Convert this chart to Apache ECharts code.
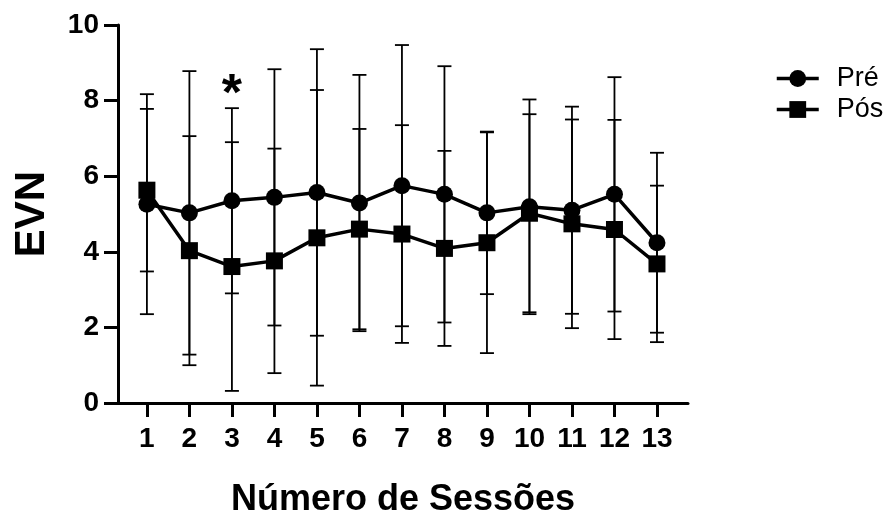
<!DOCTYPE html>
<html>
<head>
<meta charset="utf-8">
<script src="https://cdn.jsdelivr.net/npm/echarts@6/dist/echarts.min.js"></script>
<style>
  html, body { margin: 0; padding: 0; background: #fff; }
  #main { width: 892px; height: 516px; }
</style>
</head>
<body>
<div id="main"></div>
<script>
var sessoes = [1, 2, 3, 4, 5, 6, 7, 8, 9, 10, 11, 12, 13];
var pre   = [5.26, 5.03, 5.35, 5.44, 5.57, 5.29, 5.75, 5.52, 5.03, 5.19, 5.10, 5.52, 4.24];
var preSD = [2.91, 3.75, 2.45, 3.39, 3.79, 3.39, 3.72, 3.39, 2.15, 2.84, 2.74, 3.10, 2.38];
var pos   = [5.63, 4.03, 3.61, 3.76, 4.37, 4.60, 4.47, 4.09, 4.24, 5.02, 4.74, 4.59, 3.68];
var posSD = [2.15, 3.03, 3.29, 2.97, 3.91, 2.65, 2.88, 2.58, 2.92, 2.62, 2.76, 2.90, 2.07];
var yTicks = [0, 2, 4, 6, 8, 10];

var fonte = 'Liberation Sans, Arial, sans-serif';
var myChart = echarts.init(document.getElementById('main'));

// barras de erro (media +- dp)
function erro(media, dp) {
    return sessoes.map(function (s, i) {
        return [s, media[i] - dp[i], media[i] + dp[i]];
    });
}

function renderErro(params, api) {
    var x = api.value(0);
    var baixo = api.coord([x, api.value(1)]);
    var alto = api.coord([x, api.value(2)]);
    var w = 7;
    var st = { stroke: '#000', lineWidth: 1.8 };
    return {
        type: 'group',
        children: [
            { type: 'line', shape: { x1: alto[0], y1: alto[1], x2: baixo[0], y2: baixo[1] }, style: st },
            { type: 'line', shape: { x1: alto[0] - w, y1: alto[1], x2: alto[0] + w, y2: alto[1] }, style: st },
            { type: 'line', shape: { x1: baixo[0] - w, y1: baixo[1], x2: baixo[0] + w, y2: baixo[1] }, style: st }
        ]
    };
}

function pares(v) {
    return sessoes.map(function (s, i) { return [s, v[i]]; });
}

option = {
    animation: false,
    grid: { left: 118, right: 204, top: 25, bottom: 113, containLabel: false, outerBoundsMode: 'none' },
    legend: {
        orient: 'vertical',
        left: 770,
        top: 60,
        itemGap: 4,
        itemWidth: 42,
        itemHeight: 21,
        lineStyle: { width: 3.5 },
        textStyle: { color: '#000', fontSize: 27, fontFamily: fonte, padding: [0, 0, 0, 13] },
        data: ['Pré', 'Pós']
    },
    xAxis: {
        type: 'value',
        min: 0.32,
        max: 13.73,
        name: 'Número de Sessões',
        nameLocation: 'middle',
        nameGap: 79,
        nameTextStyle: { color: '#000', fontSize: 36, fontWeight: 'bold', fontFamily: fonte },
        splitLine: { show: false },
        axisLine: { show: true, lineStyle: { color: '#000', width: 3 } },
        axisTick: { show: true, length: 14, lineStyle: { color: '#000', width: 3 }, customValues: sessoes },
        axisLabel: {
            color: '#000', fontSize: 28, fontWeight: 'bold', fontFamily: fonte,
            margin: 22, customValues: sessoes
        }
    },
    yAxis: {
        type: 'value',
        min: 0,
        max: 10,
        interval: 2,
        name: 'EVN',
        nameLocation: 'middle',
        nameGap: 65,
        nameTextStyle: { color: '#000', fontSize: 42, fontWeight: 'bold', fontFamily: fonte },
        splitLine: { show: false },
        axisLine: { show: true, lineStyle: { color: '#000', width: 3 } },
        axisTick: { show: true, length: 14, lineStyle: { color: '#000', width: 3 } },
        axisLabel: {
            color: '#000', fontSize: 28, fontWeight: 'bold', fontFamily: fonte, margin: 19,
            customValues: yTicks
        }
    },
    series: [
        {
            type: 'custom',
            name: 'erroPre',
            renderItem: renderErro,
            data: erro(pre, preSD),
            z: 1,
            silent: true
        },
        {
            type: 'custom',
            name: 'erroPos',
            renderItem: renderErro,
            data: erro(pos, posSD),
            z: 1,
            silent: true
        },
        {
            name: 'Pré',
            type: 'line',
            data: pares(pre),
            symbol: 'circle',
            symbolSize: 17,
            itemStyle: { color: '#000' },
            lineStyle: { color: '#000', width: 3.5 },
            z: 3,
            markPoint: {
                symbol: 'circle',
                symbolSize: 1,
                itemStyle: { color: 'rgba(0,0,0,0)' },
                label: {
                    show: true, formatter: '*', color: '#000',
                    fontSize: 52, fontWeight: 'bold', fontFamily: fonte, offset: [0, 12]
                },
                data: [{ coord: [3, 8.45] }]
            }
        },
        {
            name: 'Pós',
            type: 'line',
            data: pares(pos),
            symbol: 'rect',
            symbolSize: 17,
            itemStyle: { color: '#000' },
            lineStyle: { color: '#000', width: 3.5 },
            z: 3
        }
    ]
};

myChart.setOption(option);
window.addEventListener("resize", function () {
    myChart.resize();
});
</script>
</body>
</html>
